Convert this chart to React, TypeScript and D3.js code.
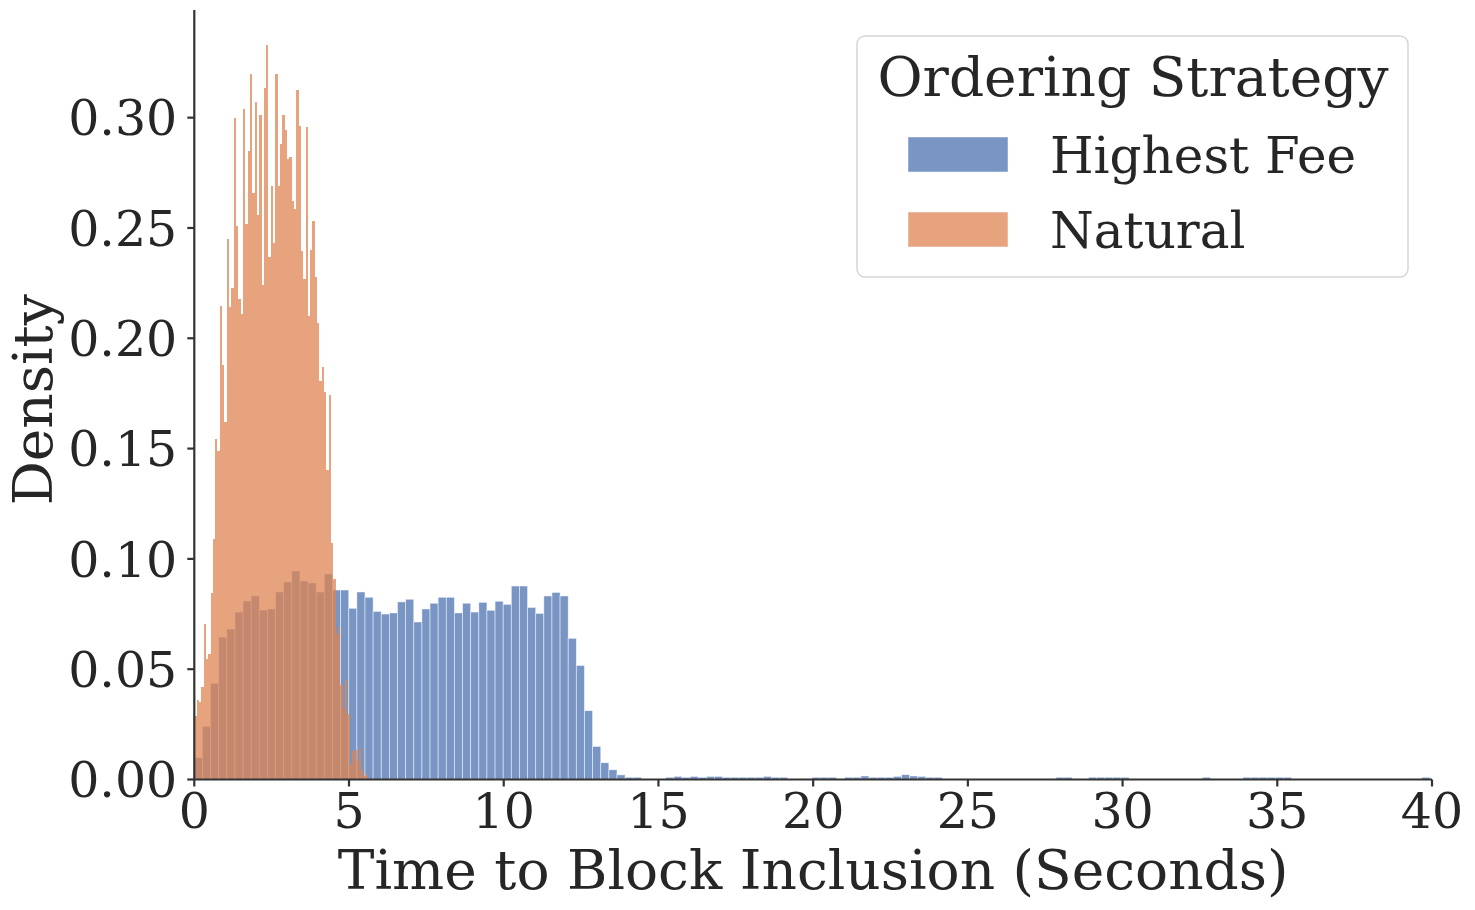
import { scaleLinear } from "d3";

// seaborn histplot, stat="density"; one value per bin, bins start at 0
const blueBinWidth = 0.2627;
const orangeBinWidth = 0.0749;

const highestFee = [
  0.0099, 0.0241, 0.0436, 0.0645, 0.0682, 0.0759, 0.0809, 0.0832, 0.0768, 0.0773,
  0.085, 0.0895, 0.0945, 0.09, 0.0891, 0.085, 0.0932, 0.0859, 0.0859, 0.0776,
  0.085, 0.0826, 0.0762, 0.075, 0.0755, 0.0805, 0.0817, 0.0714, 0.0773, 0.0799,
  0.0826, 0.0826, 0.0755, 0.0799, 0.0759, 0.0803, 0.0767, 0.0808, 0.0794, 0.0877,
  0.0877, 0.078, 0.0753, 0.0832, 0.0848, 0.0832, 0.064, 0.0517, 0.0312, 0.015,
  0.0076, 0.0044, 0.0021, 0.001, 0.001, 0, 0, 0, 0.001, 0.0014,
  0.001, 0.0014, 0.001, 0.0014, 0.0014, 0.001, 0.001, 0.001, 0.001, 0.001,
  0.0014, 0.001, 0.001, 0, 0, 0, 0.001, 0.001, 0.001, 0,
  0.001, 0.001, 0.0016, 0.001, 0.001, 0.001, 0.0014, 0.0022, 0.0016, 0.0014,
  0.001, 0.001, 0, 0, 0, 0, 0, 0, 0, 0,
  0, 0, 0, 0, 0, 0, 0.001, 0.001, 0, 0,
  0.001, 0.001, 0.001, 0.001, 0.001, 0, 0, 0, 0, 0,
  0, 0, 0, 0, 0.001, 0, 0, 0, 0, 0.001,
  0.001, 0.001, 0.001, 0.001, 0.001, 0, 0, 0, 0, 0,
  0, 0, 0, 0, 0, 0, 0, 0, 0, 0,
  0, 0.001,
];

const natural = [
  0.029, 0.036, 0.035, 0.0418, 0.0705, 0.0545, 0.057, 0.0845, 0.109, 0.1545,
  0.149, 0.2145, 0.188, 0.162, 0.245, 0.214, 0.2227, 0.3, 0.251, 0.2177,
  0.211, 0.304, 0.252, 0.285, 0.32, 0.266, 0.307, 0.256, 0.301, 0.224,
  0.3136, 0.333, 0.237, 0.269, 0.243, 0.32, 0.269, 0.288, 0.301, 0.2945,
  0.2813, 0.282, 0.262, 0.2586, 0.3127, 0.2963, 0.2395, 0.227, 0.2959, 0.21,
  0.24, 0.253, 0.228, 0.2068, 0.1805, 0.1868, 0.1755, 0.1405, 0.1745, 0.107,
  0.091, 0.066, 0.069, 0.043, 0.032, 0.045, 0.0295, 0.0065, 0.013, 0.0135,
  0.0086, 0.0145, 0.0045, 0.0015, 0.0027,
];

const xTicks = [0, 5, 10, 15, 20, 25, 30, 35, 40];
const yTicks = [0, 0.05, 0.1, 0.15, 0.2, 0.25, 0.3];

const series = [
  { name: "Highest Fee", values: highestFee, binWidth: blueBinWidth, color: "#4c72b0", edge: 0.8, crisp: false },
  { name: "Natural", values: natural, binWidth: orangeBinWidth, color: "#dd8452", edge: 0, crisp: true },
];

const W = 1475;
const H = 910;
const left = 194.3;
const right = 1432;
const top = 10;
const bottom = 779.5;
const ink = "#262626";
const font = "'DejaVu Serif', serif";

export default function App() {
  const x = scaleLinear().domain([0, 40]).range([left, right]);
  const y = scaleLinear().domain([0, 0.3488]).range([bottom, top]);

  return (
    <svg
      width={W}
      height={H}
      style={{ position: "absolute", left: 0, top: 0, background: "#fff" }}
      fontFamily={font}
    >
      {series.map((s) => (
        <g key={s.name} shapeRendering={s.crisp ? "crispEdges" : undefined}>
          {s.values.map((v, i) =>
            v > 0 ? (
              <rect
                key={i}
                x={x(i * s.binWidth)}
                y={y(v)}
                width={x((i + 1) * s.binWidth) - x(i * s.binWidth)}
                height={y(0) - y(v)}
                fill={s.color}
                fillOpacity={0.75}
                stroke={s.edge > 0 ? "#fff" : "none"}
                strokeOpacity={0.6}
                strokeWidth={s.edge}
              />
            ) : null
          )}
        </g>
      ))}

      {/* spines */}
      <line x1={left} x2={left} y1={top} y2={bottom} stroke="#333" strokeWidth={2.2} />
      <line x1={left} x2={right} y1={bottom} y2={bottom} stroke="#333" strokeWidth={2.2} />

      {yTicks.map((t) => (
        <g key={t}>
          <line x1={left - 7} x2={left} y1={y(t)} y2={y(t)} stroke="#333" strokeWidth={2.2} />
          <text x={left - 17} y={y(t)} dy="0.36em" textAnchor="end" fontSize={49} fill={ink}>
            {t.toFixed(2)}
          </text>
        </g>
      ))}
      {xTicks.map((t) => (
        <g key={t}>
          <line x1={x(t)} x2={x(t)} y1={bottom} y2={bottom + 7} stroke="#333" strokeWidth={2.2} />
          <text x={x(t)} y={828} textAnchor="middle" fontSize={49} fill={ink}>
            {t}
          </text>
        </g>
      ))}

      <text x={(left + right) / 2} y={889} textAnchor="middle" fontSize={55} fill={ink}>
        Time to Block Inclusion (Seconds)
      </text>
      <text
        transform={`translate(52, ${(top + bottom) / 2 + 5}) rotate(-90)`}
        textAnchor="middle"
        fontSize={55}
        fill={ink}
      >
        Density
      </text>

      {/* legend */}
      <rect x={857} y={36} width={551} height={241} rx={8} fill="#fff" fillOpacity={0.8} stroke="#d6d6d6" strokeWidth={1.5} />
      <text x={1133} y={96} textAnchor="middle" fontSize={55} fill={ink}>
        Ordering Strategy
      </text>
      {series.map((s, i) => (
        <g key={s.name} transform={`translate(0, ${i * 75})`}>
          <rect x={908} y={137} width={100} height={35} fill={s.color} fillOpacity={0.75} stroke="#fff" strokeOpacity={0.6} strokeWidth={0.8} />
          <text x={1050} y={173} fontSize={50} fill={ink}>
            {s.name}
          </text>
        </g>
      ))}
    </svg>
  );
}
